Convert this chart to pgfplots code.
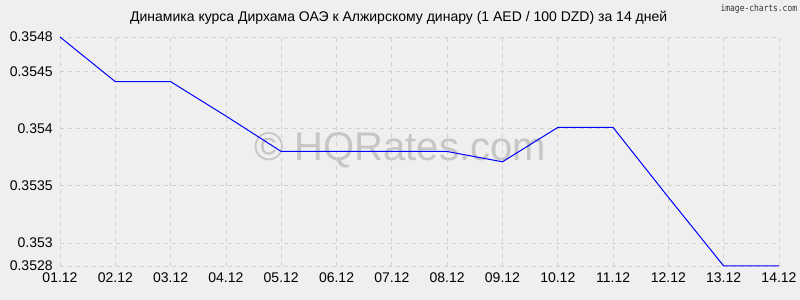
\documentclass[border=0pt]{standalone}
\usepackage{pgfplots}
\pgfplotsset{compat=1.18}
\usepackage{fontspec}
\setmainfont{Liberation Sans}
\newfontfamily\monofont{DejaVu Sans Mono}
\definecolor{bg}{HTML}{EFEFEF}
\definecolor{gridc}{HTML}{D0D0D0}
\definecolor{wm}{HTML}{C6C6C6}
\begin{document}
\begin{tikzpicture}
\fill[bg] (0,0) rectangle (600pt,225pt);
\useasboundingbox (0,0) rectangle (600pt,225pt);
\node[font=\fontsize{10.5}{12}\selectfont, anchor=center] at (299pt,211.5pt) {Динамика курса Дирхама ОАЭ к Алжирскому динару (1 AED / 100 DZD) за 14 дней};
\node[font=\monofont\fontsize{7}{8}\selectfont, text=black!80, anchor=north east, inner sep=0pt] at (598pt,222pt) {\scalebox{0.85}[1]{image-charts.com}};
\node[font=\fontsize{30}{32}\selectfont, text=wm, anchor=center] at (300pt,112pt) {© HQRates.com};
\begin{axis}[
  scale only axis,
  width=539.25pt, height=171.75pt,
  at={(45pt,25.5pt)}, anchor=south west,
  xmin=0, xmax=13, ymin=0.3528, ymax=0.3548,
  xtick={0,...,13},
  xticklabels={01.12,02.12,03.12,04.12,05.12,06.12,07.12,08.12,09.12,10.12,11.12,12.12,13.12,14.12},
  ytick={0.3528,0.353,0.3535,0.354,0.3545,0.3548},
  yticklabels={0.3528,0.353,0.3535,0.354,0.3545,0.3548},
  scaled y ticks=false,
  axis line style={draw=none},
  major tick length=0pt,
  grid=major,
  major grid style={gridc, dash pattern=on 3pt off 3pt, line width=0.6pt},
  ticklabel style={font=\fontsize{10.5}{12}\selectfont},
  yticklabel style={xshift=-2pt},
  xticklabel style={yshift=-1.5pt},
  /pgf/number format/assume math mode=true,
  clip=false,
]
\addplot[color=blue, line width=0.75pt, mark=none] coordinates {
(0,0.35480) (1,0.35441) (2,0.35441) (3,0.35411) (4,0.35380) (5,0.35380) (6,0.35380) (7,0.35380) (8,0.35371) (9,0.35401) (10,0.35401) (11,0.35340) (12,0.35280) (13,0.35280)
};
\end{axis}
\end{tikzpicture}
\end{document}
